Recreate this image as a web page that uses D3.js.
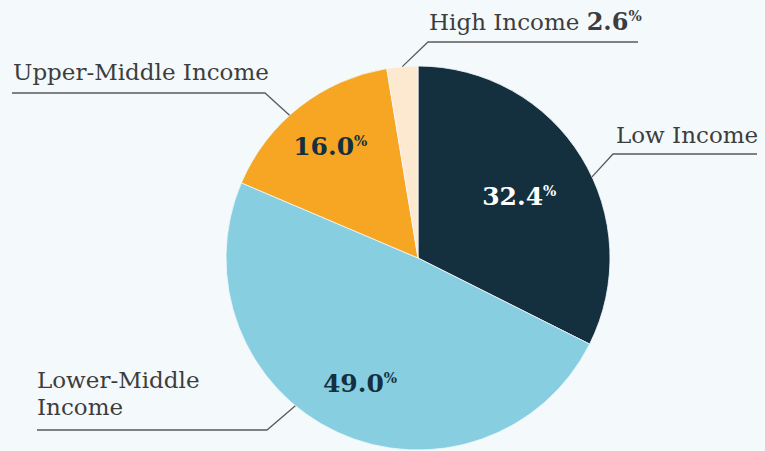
<!DOCTYPE html>
<html>
<head>
<meta charset="utf-8">
<script src="https://cdn.jsdelivr.net/npm/d3@7"></script>
<style>
  body { margin: 0; background: #f4f9fc; }
  svg { display: block; }
</style>
</head>
<body>
<div id="chart"></div>
<script>
// data
const categories = ['Low Income', 'Lower-Middle Income', 'Upper-Middle Income', 'High Income']
const shares = [32.4, 49.0, 16.0, 2.6]
const colors = ['#14303f', '#87cee1', '#f6a623', '#fde8d0']
const valueColors = ['#ffffff', '#14303f', '#14303f', null]

const dimensions = {
  width: 765,
  height: 451,
  cx: 418,
  cy: 258,
  radius: 192,
}

// where the value sits inside each slice (radius from centre)
const valueRadius = [119, 138, 142, 0]

// leader lines: angle where it leaves the pie (deg from top), elbow, end of the rule
const leaders = [
  { angle: 65, elbow: [613, 154], end: 757 },
  { angle: 219.7, elbow: [267, 430], end: 37 },
  { angle: 318, elbow: [265, 93], end: 12 },
  { angle: 355.3, elbow: [428, 42], end: 638 },
]

// label text blocks
const labelLines = [
  { x: 616, y: 143, lines: ['Low Income'] },
  { x: 37, y: 388, lines: ['Lower-Middle', 'Income'] },
  { x: 13, y: 80, lines: ['Upper-Middle Income'] },
  { x: 429, y: 30, lines: ['High Income'], value: true },
]

const serif = "'DejaVu Serif', 'Liberation Serif', serif"

const svg = d3
  .select('#chart')
  .append('svg')
  .attr('width', dimensions.width)
  .attr('height', dimensions.height)

const ctr = svg
  .append('g')
  .attr('transform', `translate(${dimensions.cx}, ${dimensions.cy})`)

const dataset = categories.map((c, i) => ({ name: c, value: shares[i], i }))

const pie = d3.pie().sort(null).value((d) => d.value)
const arcs = pie(dataset)

const arcGenerator = d3.arc().innerRadius(0).outerRadius(dimensions.radius)

ctr
  .selectAll('path')
  .data(arcs)
  .join('path')
  .attr('d', arcGenerator)
  .attr('fill', (d) => colors[d.data.i])
  .attr('stroke', '#f4f9fc')
  .attr('stroke-width', 0.8)

// values inside slices
arcs.forEach((a) => {
  const i = a.data.i
  if (!valueColors[i]) return
  const r = valueRadius[i]
  const mid = (a.startAngle + a.endAngle) / 2
  const x = r * Math.sin(mid)
  const y = -r * Math.cos(mid)
  const t = ctr
    .append('text')
    .attr('x', x)
    .attr('y', y + 9)
    .attr('text-anchor', 'middle')
    .attr('fill', valueColors[i])
    .style('font-family', serif)
    .style('font-weight', 'bold')
    .style('font-size', '25px')
  t.append('tspan').text(d3.format('.1f')(a.data.value))
  t.append('tspan')
    .attr('dy', -9)
    .style('font-size', '14px')
    .text('%')
})

// leader lines
const lineG = svg.append('g')
leaders.forEach((l) => {
  const rad = (l.angle * Math.PI) / 180
  const sx = dimensions.cx + dimensions.radius * Math.sin(rad)
  const sy = dimensions.cy - dimensions.radius * Math.cos(rad)
  lineG
    .append('path')
    .attr('d', d3.line()([[sx, sy], l.elbow, [l.end, l.elbow[1]]]))
    .attr('fill', 'none')
    .attr('stroke', '#5a5a5a')
    .attr('stroke-width', 1.3)
})

// category labels
labelLines.forEach((l, i) => {
  const t = svg
    .append('text')
    .attr('x', l.x)
    .attr('y', l.y)
    .attr('fill', '#3d3d3d')
    .style('font-family', serif)
    .style('font-size', '23px')
  l.lines.forEach((line, j) => {
    t.append('tspan')
      .attr('x', l.x)
      .attr('dy', j === 0 ? 0 : 27)
      .text(line)
  })
  if (l.value) {
    t.append('tspan').text(' ')
    t.append('tspan')
      .style('font-weight', 'bold')
      .style('font-size', '24px')
      .text(d3.format('.1f')(shares[i]))
    t.append('tspan')
      .attr('dy', -9)
      .style('font-weight', 'bold')
      .style('font-size', '14px')
      .text('%')
  }
})
</script>
</body>
</html>
